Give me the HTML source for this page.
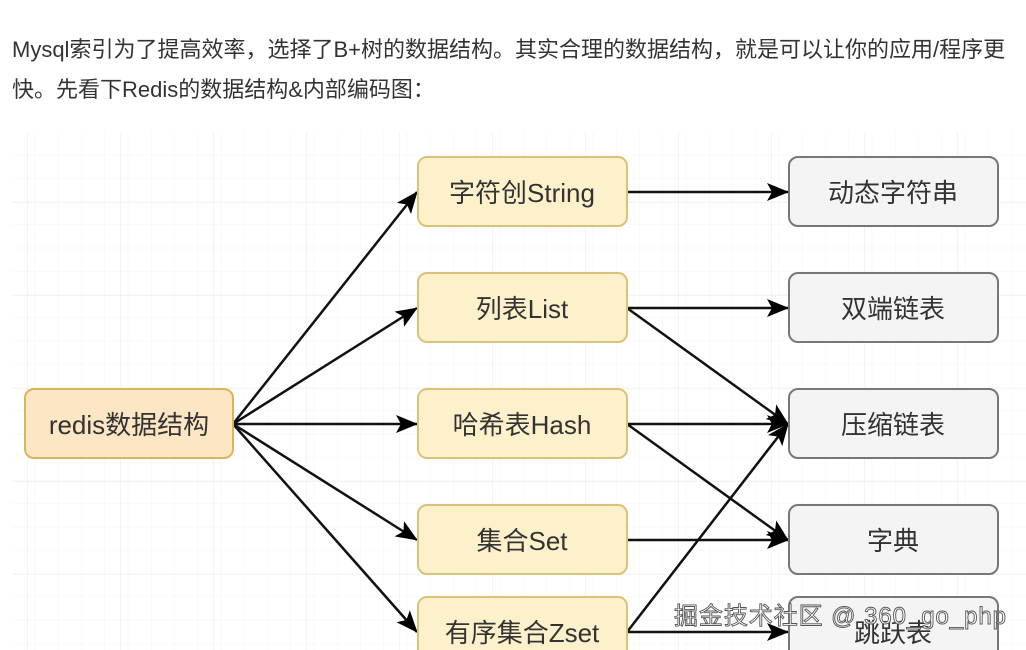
<!DOCTYPE html>
<html><head><meta charset="utf-8"><style>
body{margin:0;width:1026px;height:650px;background:#fff;overflow:hidden;font-family:"Liberation Sans","Noto Sans CJK SC",sans-serif;position:relative}
.t{position:absolute;left:12px;font-size:22px;color:#333;white-space:nowrap}
</style></head><body>
<div class="t" style="top:32px">Mysql索引为了提高效率，选择了B+树的数据结构。其实合理的数据结构，就是可以让你的应用/程序更</div>
<div class="t" style="top:72px">快。先看下Redis的数据结构&amp;内部编码图：</div>
<svg width="1026" height="650" style="position:absolute;left:0;top:0" font-family="Liberation Sans, Noto Sans CJK SC, sans-serif">
<defs>
<pattern id="g" x="12" y="132" width="23.25" height="23.25" patternUnits="userSpaceOnUse"><path d="M23.25 0V23.25H0" fill="none" stroke="#f4f4f4" stroke-width="1"/></pattern>
<pattern id="G" x="27" y="110" width="93" height="93" patternUnits="userSpaceOnUse"><path d="M0 0V93M0 93H93" fill="none" stroke="#e8e8e8" stroke-width="1"/></pattern>
<marker id="a" markerWidth="22" markerHeight="18" refX="21" refY="9" orient="auto" markerUnits="userSpaceOnUse"><path d="M0 0L22 9L0 18L5 9Z" fill="#000"/></marker>
</defs>
<rect x="12" y="132" width="1014" height="518" fill="url(#g)"/>
<rect x="12" y="132" width="1014" height="518" fill="url(#G)"/>
<g stroke="#111" stroke-width="2.5" fill="none" marker-end="url(#a)">
<line x1="233" y1="424" x2="417" y2="192"/>
<line x1="233" y1="424" x2="417" y2="308"/>
<line x1="233" y1="424" x2="417" y2="424"/>
<line x1="233" y1="424" x2="417" y2="540"/>
<line x1="233" y1="424" x2="417" y2="632"/>
<line x1="627" y1="192" x2="788" y2="192"/>
<line x1="627" y1="308" x2="788" y2="308"/>
<line x1="627" y1="308" x2="788" y2="424"/>
<line x1="627" y1="424" x2="788" y2="424"/>
<line x1="627" y1="424" x2="788" y2="540"/>
<line x1="627" y1="540" x2="788" y2="540"/>
<line x1="627" y1="632" x2="788" y2="424"/>
<line x1="627" y1="632" x2="788" y2="632"/>
</g>
<g font-size="26" fill="#333" text-anchor="middle">
<rect x="25" y="389" width="208" height="69" rx="9" fill="#fce6c4" stroke="#d9b65a" stroke-width="2"/>
<text x="129" y="434">redis数据结构</text>
<g fill="#fdf1cc" stroke="#d9c27a" stroke-width="2">
<rect x="418" y="157" width="209" height="69" rx="9"/>
<rect x="418" y="273" width="209" height="69" rx="9"/>
<rect x="418" y="389" width="209" height="69" rx="9"/>
<rect x="418" y="505" width="209" height="69" rx="9"/>
<rect x="418" y="597" width="209" height="69" rx="9"/>
</g>
<text x="522" y="202">字符创String</text>
<text x="522" y="318">列表List</text>
<text x="522" y="434">哈希表Hash</text>
<text x="522" y="550">集合Set</text>
<text x="522" y="642">有序集合Zset</text>
<g fill="#f4f4f5" stroke="#777" stroke-width="2">
<rect x="789" y="157" width="209" height="69" rx="9"/>
<rect x="789" y="273" width="209" height="69" rx="9"/>
<rect x="789" y="389" width="209" height="69" rx="9"/>
<rect x="789" y="505" width="209" height="69" rx="9"/>
<rect x="789" y="597" width="209" height="69" rx="9"/>
</g>
<text x="893" y="202">动态字符串</text>
<text x="893" y="318">双端链表</text>
<text x="893" y="434">压缩链表</text>
<text x="893" y="550">字典</text>
<text x="893" y="642">跳跃表</text>
</g>
<text x="674" y="624" font-size="24" fill="#fff" stroke="#555" stroke-width="0.9" textLength="332">掘金技术社区 @ 360_go_php</text>
</svg>
</body></html>
